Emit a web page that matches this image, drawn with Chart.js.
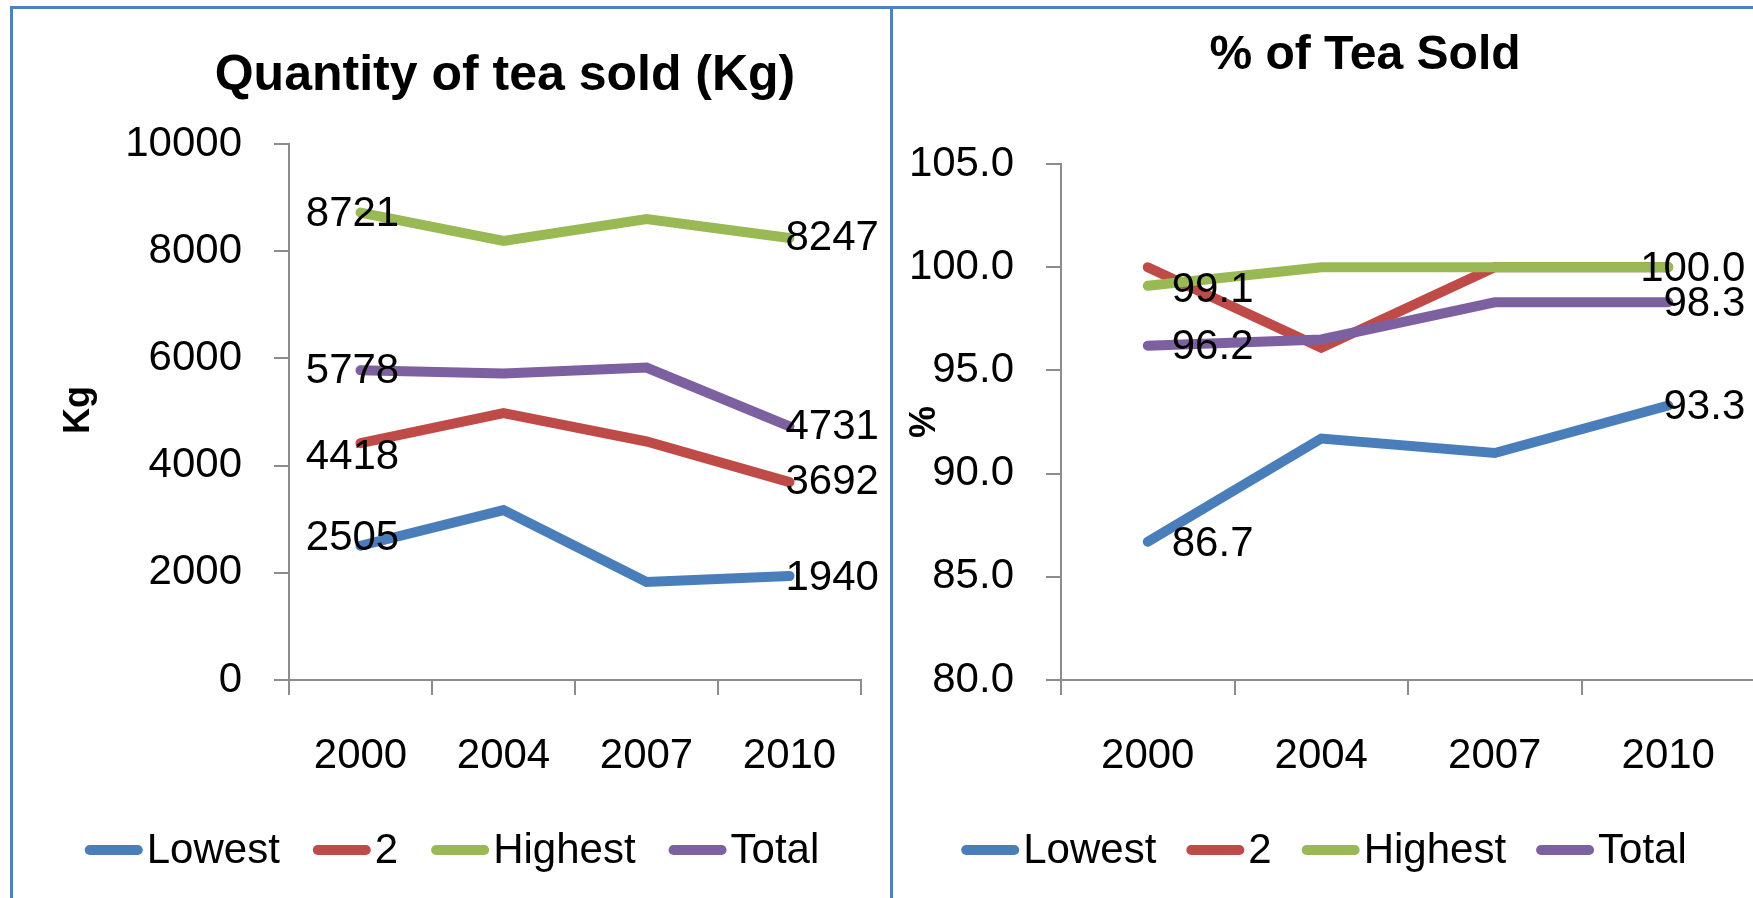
<!DOCTYPE html>
<html>
<head>
<meta charset="utf-8">
<title>Tea sold</title>
<script src="https://cdn.jsdelivr.net/npm/chart.js@4.4.1/dist/chart.umd.min.js"></script>
<style>
  html, body { margin: 0; padding: 0; background: #fff; overflow: hidden; }
  body { width: 1753px; height: 898px; position: relative; }
  canvas { position: absolute; top: 0; }
  #qtyChart { left: 0; }
  #pctChart { left: 891px; }
  .rule { position: absolute; background: #4f81bd; }
</style>
</head>
<body>
<canvas id="qtyChart" width="890" height="898"></canvas>
<canvas id="pctChart" width="900" height="898"></canvas>
<div class="rule" style="left:10px;top:6px;width:1743px;height:3px"></div>
<div class="rule" style="left:10px;top:6px;width:3px;height:892px"></div>
<div class="rule" style="left:890px;top:6px;width:3px;height:892px"></div>
<script>
const years = ["2000", "2004", "2007", "2010"]
const seriesNames = ["Lowest", "2", "Highest", "Total"]
const seriesColors = ["#4a7ebb", "#be4b48", "#98b954", "#7d60a0"]

// Quantity of tea sold (Kg)
const qtyLowest = [2505, 3170, 1830, 1940]
const qtySecond = [4418, 4980, 4450, 3692]
const qtyHighest = [8721, 8190, 8600, 8247]
const qtyTotal = [5778, 5720, 5830, 4731]
const qtyTicks = [0, 2000, 4000, 6000, 8000, 10000]

// % of tea sold
const pctLowest = [86.7, 91.7, 91.0, 93.3]
const pctSecond = [100.0, 96.1, 100.0, 100.0]
const pctHighest = [99.1, 100.0, 100.0, 100.0]
const pctTotal = [96.2, 96.5, 98.3, 98.3]
const pctTicks = [80, 85, 90, 95, 100, 105]

// series that get value labels at first and last year
const qtyLabelled = [true, true, true, true]
const pctLabelled = [true, false, true, true]

const FONT = "'Liberation Sans', Arial, sans-serif"
const AXIS = "#8c8c8c"
Chart.defaults.font.family = FONT
Chart.defaults.color = "#000"

// titles, axis title, legend and value labels
const panelText = {
  id: "panelText",
  afterDatasetsDraw(chart, args, opts) {
    const ctx = chart.ctx
    ctx.save()
    ctx.fillStyle = "#000"
    ctx.font = `42px ${FONT}`
    ctx.textBaseline = "middle"
    chart.data.datasets.forEach((ds, i) => {
      if (!opts.labelled[i]) return
      const meta = chart.getDatasetMeta(i)
      const last = ds.data.length - 1
      ;[0, last].forEach((j) => {
        const pt = meta.data[j]
        const place = j === 0 ? opts.first : opts.last
        ctx.textAlign = place.align
        ctx.fillText(ds.data[j].toFixed(opts.decimals), pt.x + place.dx, pt.y + place.dy[i])
      })
    })
    ctx.restore()
  },
  afterDraw(chart, args, opts) {
    const ctx = chart.ctx
    ctx.save()
    ctx.fillStyle = "#000"

    // chart title
    ctx.font = `bold ${opts.titleSize}px ${FONT}`
    ctx.textAlign = "center"
    ctx.textBaseline = "alphabetic"
    ctx.fillText(opts.title, opts.titleX, opts.titleY)

    // y axis title
    ctx.save()
    ctx.translate(opts.axisX, opts.axisY)
    ctx.rotate(-Math.PI / 2)
    ctx.font = `bold 36px ${FONT}`
    ctx.textBaseline = "middle"
    ctx.fillText(opts.axisTitle, 0, 0)
    ctx.restore()

    // legend
    ctx.font = `42px ${FONT}`
    ctx.textAlign = "left"
    const sample = 58
    const widths = seriesNames.map((n) => ctx.measureText(n).width)
    const total = widths.reduce((a, b) => a + b, 0) + seriesNames.length * (sample + 4) + (seriesNames.length - 1) * opts.legendGap
    let x = opts.legendX - total / 2
    seriesNames.forEach((name, i) => {
      ctx.strokeStyle = seriesColors[i]
      ctx.lineWidth = 10
      ctx.lineCap = "round"
      ctx.beginPath()
      ctx.moveTo(x + 5, opts.legendY)
      ctx.lineTo(x + sample - 5, opts.legendY)
      ctx.stroke()
      x += sample + 4
      ctx.fillText(name, x, opts.legendY + 13)
      x += widths[i] + opts.legendGap
    })
    ctx.restore()
  },
}

function makeChart(id, series, ticks, decimals, pad, yWidth, text) {
  return new Chart(document.getElementById(id), {
    type: "line",
    data: {
      labels: years,
      datasets: series.map((data, i) => ({
        label: seriesNames[i],
        data: data,
        borderColor: seriesColors[i],
        backgroundColor: seriesColors[i],
        borderWidth: 10,
        borderCapStyle: "round",
        borderJoinStyle: "miter",
        pointRadius: 0,
        pointHoverRadius: 0,
        tension: 0,
        fill: false,
        order: series.length - i,
      })),
    },
    options: {
      responsive: false,
      animation: false,
      events: [],
      layout: { padding: pad },
      scales: {
        x: {
          offset: true,
          grid: { offset: true, drawOnChartArea: false, drawTicks: true, tickLength: 15, color: AXIS, lineWidth: 2 },
          border: { color: AXIS, width: 2 },
          ticks: { font: { size: 42, lineHeight: 1 }, padding: 40, maxRotation: 0, autoSkip: false },
          // labels are clipped to the scale box, so keep it tall enough
          afterFit(scale) {
            scale.height = 110
          },
        },
        y: {
          min: ticks[0],
          max: ticks[ticks.length - 1],
          grid: { drawOnChartArea: false, drawTicks: true, tickLength: 15, color: AXIS, lineWidth: 2 },
          border: { color: AXIS, width: 2 },
          ticks: {
            font: { size: 42, lineHeight: 1 },
            padding: 32,
            callback: (v) => Number(v).toFixed(decimals),
          },
          afterBuildTicks(scale) {
            scale.ticks = ticks.map((v) => ({ value: v }))
          },
          afterFit(scale) {
            scale.width = yWidth
          },
        },
      },
      plugins: {
        legend: { display: false },
        tooltip: { enabled: false },
        panelText: text,
      },
    },
    plugins: [panelText],
  })
}

makeChart(
  "qtyChart",
  [qtyLowest, qtySecond, qtyHighest, qtyTotal],
  qtyTicks,
  0,
  { left: 0, right: 29, top: 144, bottom: 108 },
  289,
  {
    title: "Quantity of tea sold (Kg)", titleX: 505, titleY: 90, titleSize: 50,
    axisTitle: "Kg", axisX: 79, axisY: 410,
    legendX: 452, legendY: 850, legendGap: 33,
    labelled: qtyLabelled, decimals: 0,
    first: { align: "center", dx: -8, dy: [-7, 14, 2, 1] },
    last: { align: "left", dx: -4, dy: [2, 0, 0, 1] },
  }
)

makeChart(
  "pctChart",
  [pctLowest, pctSecond, pctHighest, pctTotal],
  pctTicks,
  1,
  { left: 0, right: 36, top: 164, bottom: 108 },
  170,
  {
    title: "% of Tea Sold", titleX: 474, titleY: 69, titleSize: 48,
    axisTitle: "%", axisX: 34, axisY: 422,
    legendX: 433, legendY: 850, legendGap: 30,
    labelled: pctLabelled, decimals: 1,
    first: { align: "left", dx: 24, dy: [3, 0, 5, 2] },
    last: { align: "right", dx: 77, dy: [2, 0, 2, 2] },
  }
)
</script>
</body>
</html>
